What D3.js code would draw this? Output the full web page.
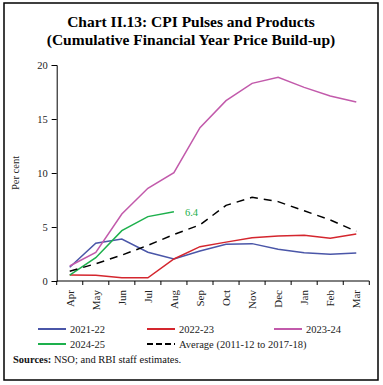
<!DOCTYPE html>
<html><head><meta charset="utf-8">
<script src="https://cdn.jsdelivr.net/npm/d3@7"></script>
<style>body{margin:0;background:#fff}svg{display:block}</style>
</head><body>
<svg id="c" width="383" height="385"></svg>
<script>
const months = ["Apr","May","Jun","Jul","Aug","Sep","Oct","Nov","Dec","Jan","Feb","Mar"];
const s2122 = [1.27,3.49,3.89,2.66,2.04,2.78,3.4,3.46,2.93,2.62,2.47,2.59];
const s2223 = [0.55,0.53,0.31,0.3,2.04,3.18,3.6,4.0,4.17,4.23,3.95,4.35];
const s2324 = [1.39,2.65,6.2,8.58,10.03,14.2,16.7,18.3,18.86,17.93,17.13,16.57];
const s2425 = [0.55,2.16,4.66,5.96,6.42];
const sAvg = [0.9,1.6,2.4,3.3,4.3,5.2,7.0,7.75,7.35,6.5,5.65,4.6];
const yTicks = [0,5,10,15,20];
const seriesNames = ["2021-22","2022-23","2023-24","2024-25","Average (2011-12 to 2017-18)"];

const svg = d3.select("#c");
const serif = "'Liberation Serif', 'DejaVu Serif', serif";
svg.append("rect").attr("x",4).attr("y",3).attr("width",374).attr("height",377)
  .attr("fill","none").attr("stroke","#000").attr("stroke-width",1.5);

svg.append("text").attr("x",191).attr("y",27).attr("text-anchor","middle")
  .style("font-family",serif).style("font-weight","bold").style("font-size","15.5px")
  .text("Chart II.13: CPI Pulses and Products");
svg.append("text").attr("x",191).attr("y",45).attr("text-anchor","middle")
  .style("font-family",serif).style("font-weight","bold").style("font-size","15.5px")
  .text("(Cumulative Financial Year Price Build-up)");

const x = d3.scaleBand().domain(months).range([56.7,369.3]);
const y = d3.scaleLinear().domain([0,20]).range([281,65]);

const yAxis = svg.append("g").attr("transform","translate(56.7,0)")
  .call(d3.axisLeft(y).tickValues(yTicks).tickSize(5).tickPadding(4));
yAxis.selectAll("text").style("font-family",serif).style("font-size","10.5px").attr("fill","#222");
yAxis.selectAll("line,path").attr("stroke","#000");

const xAxis = svg.append("g").attr("transform","translate(0,281)")
  .call(d3.axisBottom(x).tickSize(0).tickPadding(0));
xAxis.selectAll("line").remove();
xAxis.select("path").attr("stroke","#000").attr("d","M56.7,0H369.3");
xAxis.selectAll("text").attr("transform","rotate(-90)").attr("x",-9).attr("y",0).attr("dy","0.35em")
  .attr("text-anchor","end").style("font-family",serif).style("font-size","11px").attr("fill","#222");
const bounds = months.map(m=>x(m)).concat([x(months[11])+x.bandwidth()]);
xAxis.selectAll(".bt").data(bounds).enter().append("line").attr("class","bt")
  .attr("x1",d=>d).attr("x2",d=>d).attr("y1",0).attr("y2",4).attr("stroke","#000");

svg.append("text").attr("transform","translate(19,173) rotate(-90)").attr("text-anchor","middle")
  .style("font-family",serif).style("font-size","10.5px").attr("fill","#222").text("Per cent");

const cx = m => x(m)+x.bandwidth()/2;
const line = d3.line().x((d,i)=>cx(months[i])).y(d=>y(d));
const colors = ["#4a56a8","#d4262e","#c25aab","#1db04c","#000"];
const all = [s2122,s2223,s2324,s2425,sAvg];
all.forEach((s,i)=>{
  svg.append("path").datum(s).attr("d",line).attr("fill","none")
    .attr("stroke",colors[i]).attr("stroke-width",1.5)
    .attr("stroke-dasharray", i===4 ? "8,6" : null);
});
svg.append("text").attr("x",cx(months[s2425.length-1])+11).attr("y",y(s2425[s2425.length-1])+4)
  .style("font-family",serif).style("font-size","10.5px").attr("fill","#1db04c")
  .text(s2425[s2425.length-1].toFixed(1));

const legPos = [[38,329],[147,329],[274,329],[38,344],[147,344]];
seriesNames.forEach((n,i)=>{
  const [lx,ly]=legPos[i];
  svg.append("line").attr("x1",lx).attr("x2",lx+28).attr("y1",ly).attr("y2",ly)
    .attr("stroke",colors[i]).attr("stroke-width",2)
    .attr("stroke-dasharray", i===4 ? "6,3" : null);
  svg.append("text").attr("x",lx+32).attr("y",ly+3.5)
    .style("font-family",serif).style("font-size","10.5px").attr("fill","#222").text(n);
});

const src = svg.append("text").attr("x",13).attr("y",363)
  .style("font-family",serif).style("font-size","10.5px").attr("fill","#111");
src.append("tspan").style("font-weight","bold").text("Sources:");
src.append("tspan").text(" NSO; and RBI staff estimates.");
</script>
</body></html>
